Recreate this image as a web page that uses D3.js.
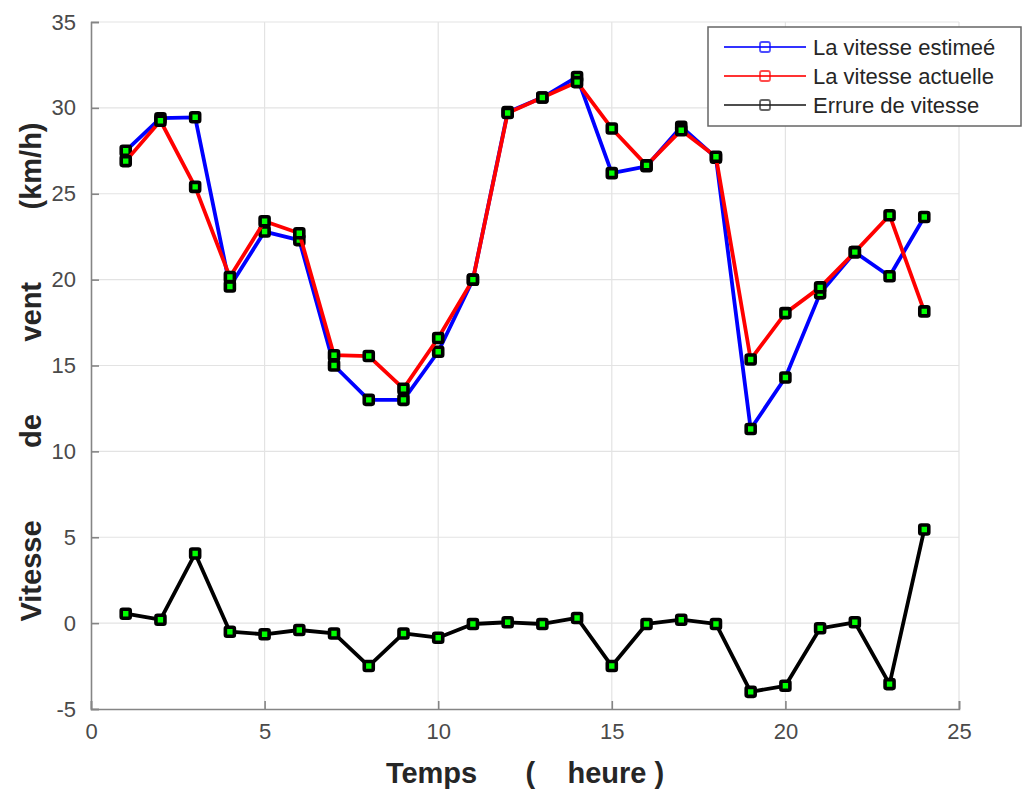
<!DOCTYPE html>
<html>
<head>
<meta charset="utf-8">
<script src="https://cdn.jsdelivr.net/npm/d3@7"></script>
<style>
  body { margin: 0; background: #ffffff; }
  text { font-family: 'Liberation Sans', Arial, Helvetica, sans-serif; }
</style>
</head>
<body>
<div id="chart"></div>
<script>
// data
const hours = [1, 2, 3, 4, 5, 6, 7, 8, 9, 10, 11, 12, 13, 14, 15, 16, 17, 18, 19, 20, 21, 22, 23, 24];
const estimated = [27.5, 29.4, 29.45, 19.6, 22.8, 22.3, 15.0, 13.0, 13.0, 15.8, 20.0, 29.75,
                   30.6, 31.8, 26.2, 26.6, 28.9, 27.1, 11.3, 14.3, 19.2, 21.6, 20.2, 23.65];
const actual = [26.9, 29.25, 25.4, 20.15, 23.4, 22.7, 15.6, 15.55, 13.65, 16.6, 20.0, 29.7,
                30.6, 31.5, 28.8, 26.65, 28.7, 27.15, 15.35, 18.05, 19.55, 21.6, 23.75, 18.15];
const errorVals = [0.55, 0.2, 4.05, -0.5, -0.65, -0.4, -0.6, -2.5, -0.6, -0.85, -0.05, 0.05,
                   -0.05, 0.3, -2.5, -0.05, 0.2, -0.05, -4.0, -3.65, -0.3, 0.05, -3.55, 5.45];
const seriesNames = ['La vitesse estimeé', 'La vitesse actuelle', 'Errure de vitesse'];
const xTicks = [0, 5, 10, 15, 20, 25];
const yTicks = [-5, 0, 5, 10, 15, 20, 25, 30, 35];

// constants
const FRAME_WIDTH = 1023;
const FRAME_HEIGHT = 795;
const PLOT = {left: 91, right: 959, top: 22, bottom: 709};
const AXIS_COLOR = '#858585';
const TICK_TEXT = '#4a4a4a';
const M = 9; // marker size

const SVG = d3.select('#chart')
              .append('svg')
              .attr('width', FRAME_WIDTH)
              .attr('height', FRAME_HEIGHT);

const xScale = d3.scaleLinear().domain([0, 25]).range([PLOT.left, PLOT.right]);
const yScale = d3.scaleLinear().domain([-5, 35]).range([PLOT.bottom, PLOT.top]);

// grid
SVG.append('g')
   .selectAll('line')
   .data(xTicks.filter(d => d > 0))
   .enter()
   .append('line')
   .attr('x1', d => xScale(d)).attr('x2', d => xScale(d))
   .attr('y1', PLOT.top).attr('y2', PLOT.bottom)
   .attr('stroke', '#e3e3e3').attr('stroke-width', 1.2);

SVG.append('g')
   .selectAll('line')
   .data(yTicks.filter(d => d > -5))
   .enter()
   .append('line')
   .attr('x1', PLOT.left).attr('x2', PLOT.right)
   .attr('y1', d => yScale(d)).attr('y2', d => yScale(d))
   .attr('stroke', '#e3e3e3').attr('stroke-width', 1.2);

// axes (ticks point inward), plain hyphen for negatives
const fmt = d => String(d);

const xAxis = SVG.append('g')
   .attr('transform', 'translate(0,' + PLOT.bottom + ')')
   .call(d3.axisBottom(xScale).tickValues(xTicks).tickFormat(fmt)
           .tickSize(-8).tickSizeOuter(-8).tickPadding(14));

const yAxis = SVG.append('g')
   .attr('transform', 'translate(' + PLOT.left + ',0)')
   .call(d3.axisLeft(yScale).tickValues(yTicks).tickFormat(fmt)
           .tickSize(-8).tickSizeOuter(-8).tickPadding(15));

[xAxis, yAxis].forEach(function(ax) {
    ax.select('.domain').attr('stroke', AXIS_COLOR).attr('stroke-width', 1.6);
    ax.selectAll('.tick line').attr('stroke', AXIS_COLOR).attr('stroke-width', 1.6);
    ax.selectAll('.tick text')
      .attr('fill', TICK_TEXT)
      .attr('font-size', '22px')
      .style('font-family', "'Liberation Sans', Arial, sans-serif");
});

// axis labels
SVG.append('text')
   .attr('x', (PLOT.left + PLOT.right) / 2)
   .attr('y', 783)
   .attr('text-anchor', 'middle')
   .attr('font-size', '29px')
   .attr('font-weight', 'bold')
   .attr('fill', '#262626')
   .style('white-space', 'pre')
   .text('Temps      (    heure )');

SVG.append('text')
   .attr('transform', 'translate(41,' + 372 + ') rotate(-90)')
   .attr('text-anchor', 'middle')
   .attr('font-size', '29px')
   .attr('font-weight', 'bold')
   .attr('fill', '#262626')
   .style('white-space', 'pre')
   .text('Vitesse         de         vent         (km/h)');

// series
const series = [
    {values: estimated, color: '#0000ff'},
    {values: actual, color: '#ff0000'},
    {values: errorVals, color: '#000000'}
];

const line = d3.line()
    .x(d => xScale(d.x))
    .y(d => yScale(d.y));

series.forEach(function(s) {
    const pts = hours.map((h, i) => ({x: h, y: s.values[i]}));
    SVG.append('path')
       .datum(pts)
       .attr('d', line)
       .attr('fill', 'none')
       .attr('stroke', s.color)
       .attr('stroke-width', 3.8)
       .attr('stroke-linejoin', 'round');
    SVG.append('g')
       .selectAll('rect')
       .data(pts)
       .enter()
       .append('rect')
       .attr('x', d => xScale(d.x) - M / 2)
       .attr('y', d => yScale(d.y) - M / 2)
       .attr('width', M)
       .attr('height', M)
       .attr('rx', 1.5)
       .attr('fill', '#00ff00')
       .attr('stroke', '#000000')
       .attr('stroke-width', 3.6);
});

// legend
const LEGEND = SVG.append('g');
LEGEND.append('rect')
      .attr('x', 708).attr('y', 27)
      .attr('width', 313).attr('height', 99)
      .attr('fill', '#ffffff')
      .attr('stroke', '#666666')
      .attr('stroke-width', 1.5);

const legendColors = ['#0000ff', '#ff0000', '#222222'];
seriesNames.forEach(function(name, i) {
    const cy = 47 + i * 29;
    LEGEND.append('line')
          .attr('x1', 724).attr('x2', 806)
          .attr('y1', cy).attr('y2', cy)
          .attr('stroke', legendColors[i]).attr('stroke-width', 1.8)
          .attr('opacity', 0.8);
    LEGEND.append('rect')
          .attr('x', 760).attr('y', cy - 5)
          .attr('width', 10).attr('height', 10)
          .attr('rx', 2)
          .attr('fill', 'none')
          .attr('stroke', legendColors[i]).attr('stroke-width', 1.8)
          .attr('opacity', 0.7);
    LEGEND.append('text')
          .attr('x', 813).attr('y', cy + 8)
          .attr('font-size', '22px')
          .attr('fill', '#262626')
          .text(name);
});
</script>
</body>
</html>
